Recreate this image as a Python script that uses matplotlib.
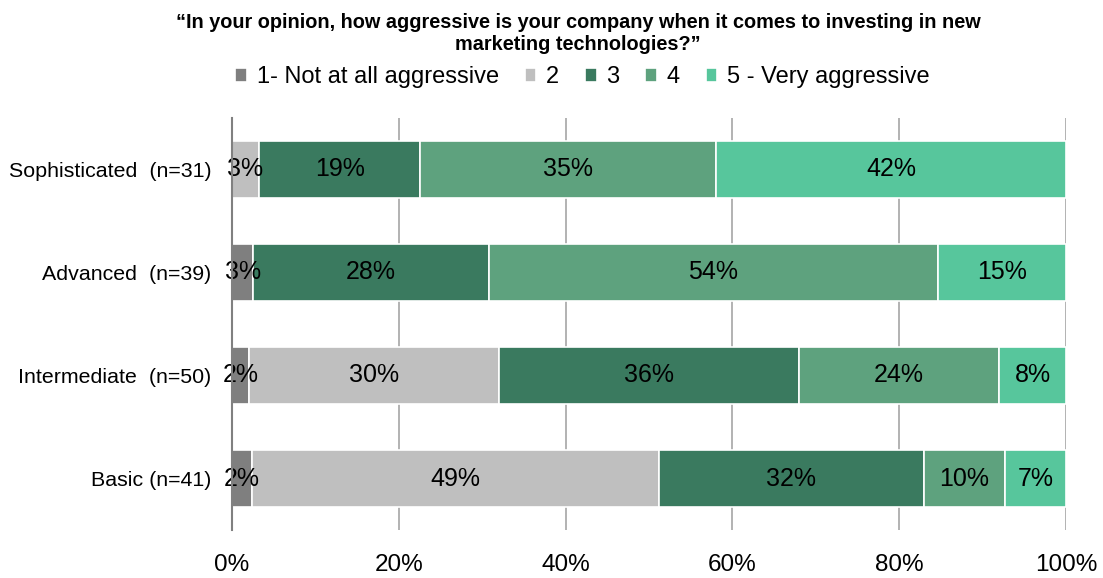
import matplotlib
matplotlib.use("Agg")
import matplotlib.pyplot as plt
import numpy as np

plt.rcParams['font.family'] = ['Liberation Sans', 'DejaVu Sans']

categories = ["Sophisticated  (n=31)", "Advanced  (n=39)", "Intermediate  (n=50)", "Basic (n=41)"]
series_names = ["1- Not at all aggressive", "2", "3", "4", "5 - Very aggressive"]
# percentage share of each response, per segment
s1 = [0.0, 2.56, 2.0, 2.44]
s2 = [3.23, 0.0, 30.0, 48.78]
s3 = [19.35, 28.21, 36.0, 31.71]
s4 = [35.48, 53.85, 24.0, 9.76]
s5 = [41.94, 15.38, 8.0, 7.32]
series = [s1, s2, s3, s4, s5]
colors = ["#7f7f7f", "#bfbfbf", "#3a7a5f", "#5ea27e", "#57c69c"]
xticks = [0, 20, 40, 60, 80, 100]
title = "\u201cIn your opinion, how aggressive is your company when it comes to investing in new\nmarketing technologies?\u201d"

fig = plt.figure(figsize=(11.03, 5.78), dpi=100)
ax = fig.add_axes([0.2103, 0.083, 0.7561, 0.713])

y = np.arange(len(categories))
left = np.zeros(len(categories))
for vals, name, col in zip(series, series_names, colors):
    vals = np.array(vals)
    bars = ax.barh(y, vals, left=left, height=0.55, color=col, edgecolor="white",
                   linewidth=1.2, label=name, zorder=3)
    for b, v, l in zip(bars, vals, left):
        if v > 0:
            ax.text(l + v / 2, b.get_y() + b.get_height() / 2, f"{v:.0f}%",
                    ha="center", va="center", fontsize=18, color="black", zorder=4)
    left = left + vals

ax.set_xlim(0, 100)
ax.set_ylim(len(categories) - 0.5, -0.5)
ax.set_yticks(y)
ax.set_yticklabels(categories, fontsize=15.4)
ax.set_xticks(xticks)
ax.set_xticklabels([f"{t}%" for t in xticks], fontsize=17.5)
ax.tick_params(axis="both", length=0)
ax.tick_params(axis="x", pad=17)
ax.tick_params(axis="y", pad=15)
ax.grid(axis="x", color="#a6a6a6", linewidth=1.2, zorder=0)
for side in ["top", "right", "bottom"]:
    ax.spines[side].set_visible(False)
ax.spines["left"].set_color("#808080")
ax.spines["left"].set_linewidth(1.5)
ax.spines["left"].set_zorder(5)

fig.text(0.524, 0.978, title, ha="center", va="top", fontsize=14.3, fontweight="bold",
         linespacing=1.2)

fig.legend(loc="center", bbox_to_anchor=(0.528, 0.866), ncol=5, frameon=False,
           fontsize=17, handlelength=0.5, handleheight=0.5, handletextpad=0.4,
           columnspacing=1.1)

fig.savefig("out.png", dpi=100)
